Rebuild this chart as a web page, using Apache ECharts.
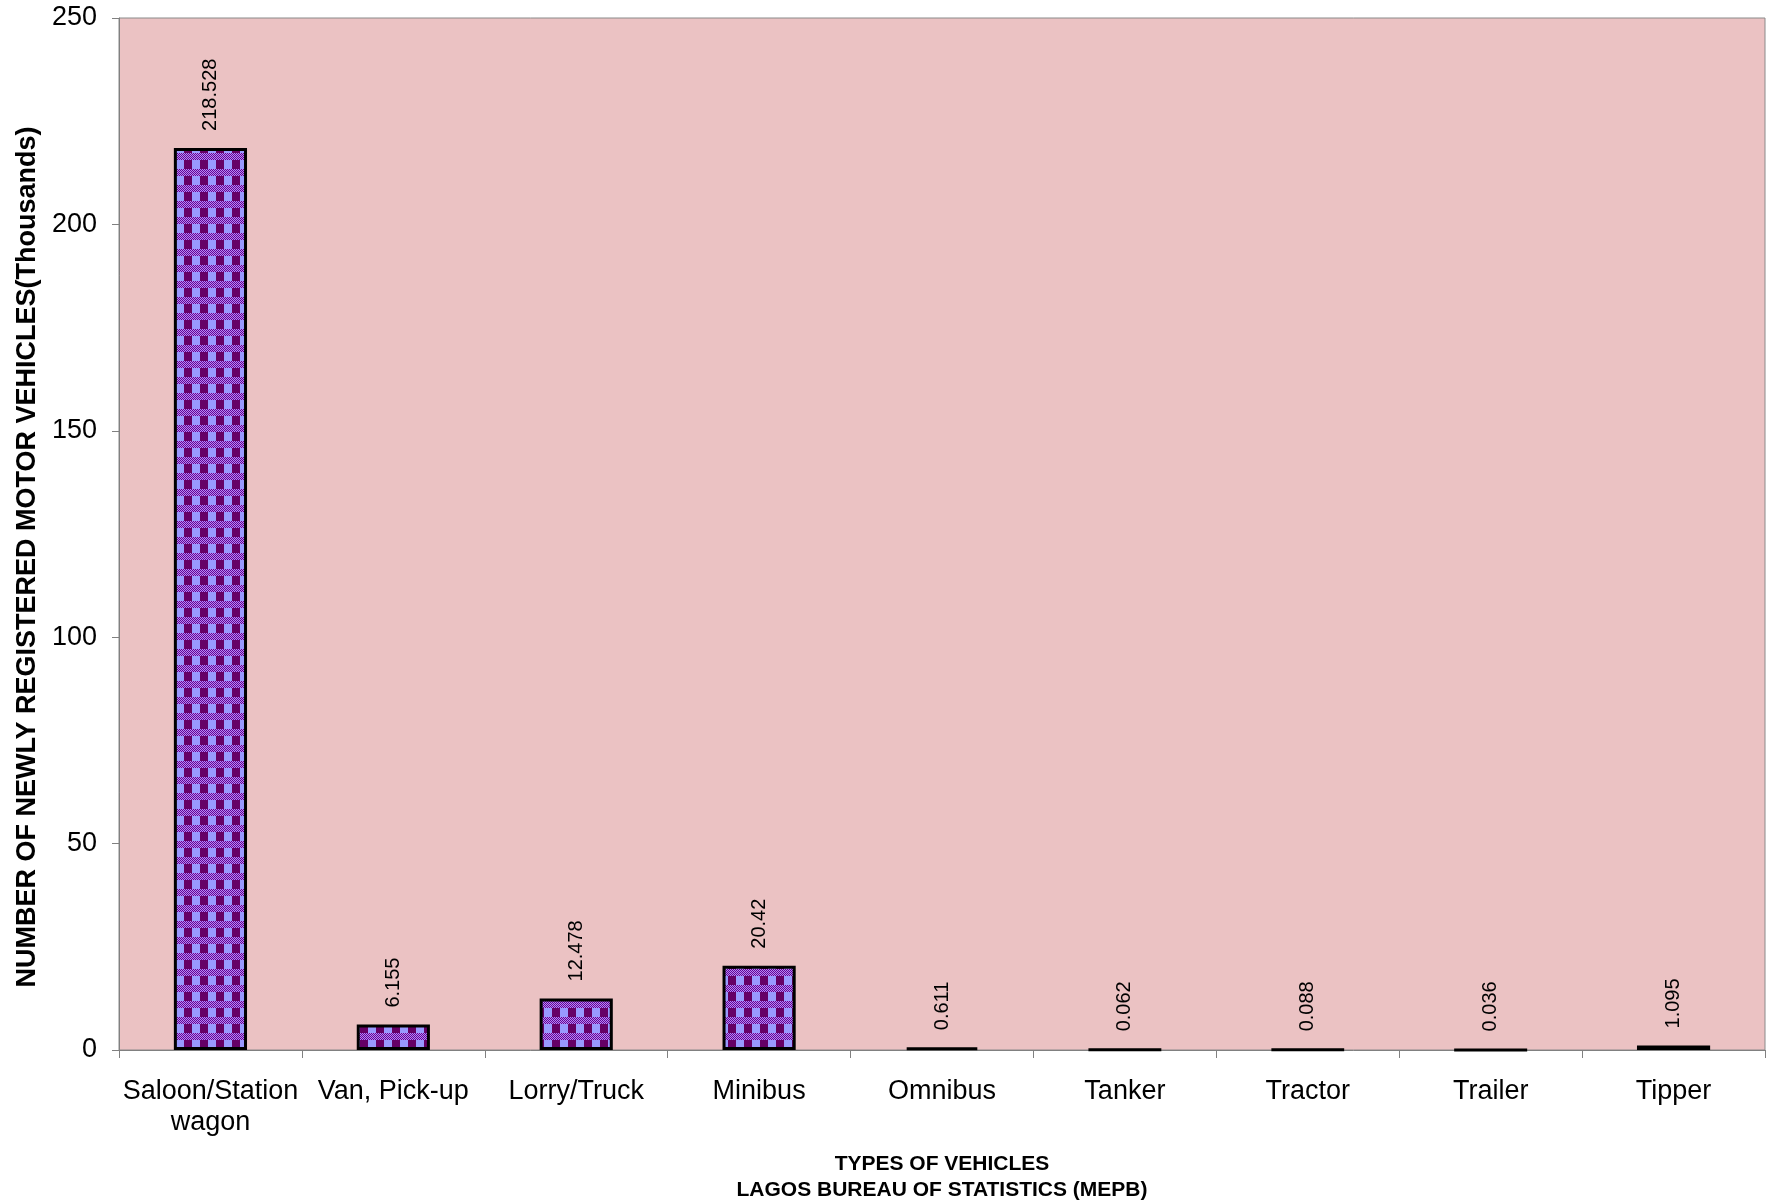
<!DOCTYPE html>
<html>
<head>
<meta charset="utf-8">
<script src="https://cdn.jsdelivr.net/npm/echarts@6/dist/echarts.min.js"></script>
<style>
  html, body { margin: 0; padding: 0; background: #fff; }
  #chart { width: 1771px; height: 1201px; }
</style>
</head>
<body>
<div id="chart"></div>
<script>
const categories = ["Saloon/Station\nwagon", "Van, Pick-up", "Lorry/Truck", "Minibus", "Omnibus", "Tanker", "Tractor", "Trailer", "Tipper"];
const vehicles = [218.528, 6.155, 12.478, 20.42, 0.611, 0.062, 0.088, 0.036, 1.095];
const yTicks = [0, 50, 100, 150, 200, 250];

// checkered purple fill like the original excel pattern
function makePattern() {
  const c = document.createElement("canvas");
  c.width = 16;
  c.height = 16;
  const ctx = c.getContext("2d");
  for (let y = 0; y < 16; y++) {
    for (let x = 0; x < 16; x++) {
      let col;
      if (y < 9) {
        col = x < 8 ? "#9999ff" : "#660066";
      } else {
        col = (x + y) % 2 === 0 ? "#660099" : "#b38cf0";
      }
      ctx.fillStyle = col;
      ctx.fillRect(x, y, 1, 1);
    }
  }
  return c;
}

const myChart = echarts.init(document.getElementById("chart"));
const font = "Liberation Sans, Arial, sans-serif";

let option = {
  animation: false,
  textStyle: {
    fontFamily: font,
    color: "#000",
  },
  grid: {
    left: 119,
    right: 6,
    top: 18,
    bottom: 151,
    outerBoundsMode: "none",
    containLabel: false,
    show: true,
    backgroundColor: "#ebc2c3",
    borderColor: "#8a8a8a",
    borderWidth: 1,
  },
  xAxis: {
    type: "category",
    data: categories,
    name: "TYPES OF VEHICLES\nLAGOS BUREAU OF STATISTICS (MEPB)",
    nameLocation: "middle",
    nameGap: 101,
    nameTextStyle: {
      fontSize: 21,
      fontWeight: "bold",
      lineHeight: 26,
      color: "#000",
    },
    axisLine: {
      lineStyle: { color: "#808080", width: 1 },
    },
    axisTick: {
      show: true,
      length: 8,
      lineStyle: { color: "#808080" },
    },
    axisLabel: {
      interval: 0,
      fontSize: 27,
      lineHeight: 31,
      margin: 26,
      color: "#000",
    },
  },
  yAxis: {
    type: "value",
    min: yTicks[0],
    max: yTicks[yTicks.length - 1],
    interval: 50,
    name: "NUMBER OF NEWLY REGISTERED MOTOR VEHICLES(Thousands)",
    nameLocation: "middle",
    nameGap: 78,
    nameTextStyle: {
      fontSize: 27,
      fontWeight: "bold",
      color: "#000",
      padding: [0, 46, 0, 0],
    },
    axisLine: {
      show: true,
      lineStyle: { color: "#808080", width: 1 },
    },
    axisTick: {
      show: true,
      length: 7,
      lineStyle: { color: "#808080" },
    },
    axisLabel: {
      fontSize: 27,
      margin: 22,
      color: "#000",
    },
    splitLine: { show: false },
  },
  series: [
    {
      type: "bar",
      data: vehicles,
      barWidth: "40%",
      itemStyle: {
        color: { image: makePattern(), repeat: "repeat" },
        borderColor: "#000",
        borderWidth: 3,
      },
      label: {
        show: true,
        position: "top",
        distance: 17,
        rotate: 90,
        align: "left",
        verticalAlign: "middle",
        fontSize: 20,
        color: "#000",
        fontFamily: font,
      },
    },
  ],
};
myChart.setOption(option);
</script>
</body>
</html>
